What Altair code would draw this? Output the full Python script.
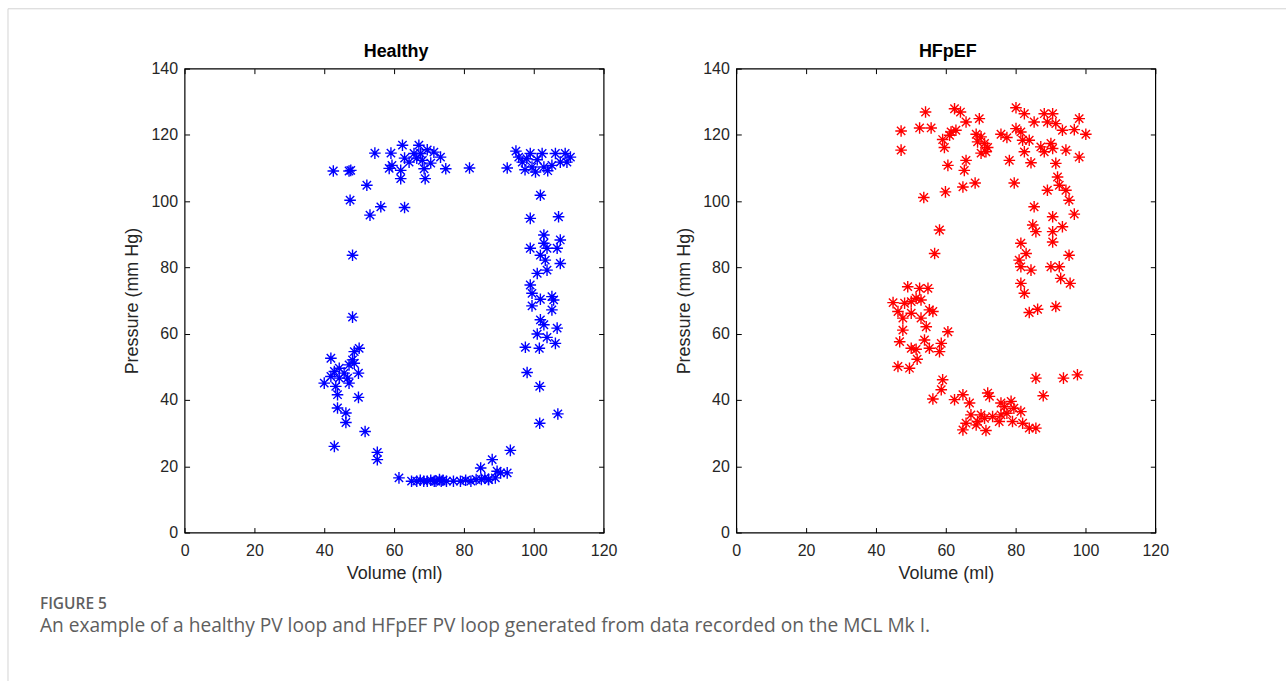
import altair as alt
import pandas as pd

# ---------------- data ----------------
healthy_volume = [
    42.6, 47.1, 47.6, 52.2, 47.4, 54.5, 59.1, 56.2, 53.1, 59.4, 58.6, 62.4, 67.1, 61.9, 61.9,
    64.3, 65.7, 67.6, 68.1, 68.6, 68.9, 71.4, 73.3, 74.8, 81.6, 63.0, 66.5, 69.5, 70.5, 63.0,
    92.4, 94.9, 95.7, 96.7, 99.0, 99.5, 102.4, 102.9, 105.2, 106.2, 109.0, 110.5, 109.5, 107.6,
    97.5, 100.5, 104.0, 101.0, 98.0,
    101.9, 99.0, 107.1, 102.9, 107.6, 99.0, 102.9, 103.8, 106.7, 101.9, 103.3, 107.6, 101.0,
    103.8, 99.0, 99.5, 101.9, 105.2, 105.7, 99.5, 105.2, 101.9, 102.9, 106.7, 101.0, 103.8,
    106.2, 97.6, 101.6, 98.1, 101.7, 106.9, 101.7, 93.3,
    88.1, 84.8, 89.5, 90.5, 92.4, 87.1, 89.0, 61.4,
    65.0, 66.5, 67.5, 68.5, 69.5, 70.5, 71.5, 72.0, 73.0, 73.5, 74.0, 75.0, 77.0, 79.0, 80.5,
    82.0, 83.5, 85.0, 86.0, 87.0,
    55.2, 55.2, 51.7, 42.9, 46.2, 46.2, 43.8, 49.8, 43.8, 40.0, 43.3, 47.1, 41.9, 44.3, 46.7,
    42.9, 45.7, 49.8, 44.3, 47.1, 48.6, 48.1, 41.9, 48.6, 50.0, 48.1, 48.1,
]
healthy_pressure = [
    109.1, 109.1, 109.3, 104.8, 100.3, 114.5, 114.5, 98.3, 95.8, 110.8, 109.9, 116.9, 116.9, 109.3, 106.8,
    111.8, 114.4, 114.4, 112.3, 109.8, 106.8, 114.8, 113.3, 109.8, 110.0, 98.1, 113.0, 115.5, 111.5, 113.0,
    110.0, 115.1, 113.3, 111.8, 114.4, 110.3, 114.4, 110.3, 110.8, 114.4, 114.4, 113.3, 111.8, 111.8,
    109.5, 108.8, 109.2, 112.5, 112.8,
    101.8, 94.8, 95.3, 89.8, 88.3, 85.8, 87.3, 85.8, 85.8, 83.7, 82.2, 81.2, 78.2,
    79.2, 74.7, 72.2, 70.4, 71.2, 70.2, 68.4, 67.2, 64.2, 62.7, 61.7, 59.9, 58.9,
    57.1, 55.9, 55.6, 48.3, 44.1, 35.8, 33.0, 24.8,
    22.0, 19.5, 18.5, 18.0, 18.0, 16.0, 16.5, 16.5,
    15.5, 15.5, 15.8, 15.5, 15.5, 15.8, 15.5, 15.5, 16.0, 15.5, 15.8, 15.5, 15.5, 15.5, 15.8,
    15.5, 16.0, 16.0, 16.5, 16.0,
    24.2, 22.0, 30.5, 26.0, 33.2, 36.1, 37.6, 40.8, 41.6, 45.1, 44.1, 45.1, 47.1, 46.6, 46.6,
    48.6, 48.1, 48.1, 49.6, 50.6, 51.1, 52.1, 52.6, 54.6, 55.6, 65.0, 83.7,
]

hfpef_volume = [
    47.2, 47.2, 52.5, 55.8, 54.2, 62.5, 64.2, 65.8, 69.6, 61.5, 62.9, 61.1, 59.1, 59.6, 60.6,
    65.8, 65.3, 64.9, 68.4, 59.9, 53.7, 58.2, 56.8, 68.7, 70.1, 69.1, 71.1, 72.0, 71.5, 70.1,
    75.8, 77.5, 78.2, 79.6, 80.1, 82.5, 80.1, 81.5, 82.0, 83.9, 82.5, 84.4, 85.3, 88.2, 90.6,
    89.1, 91.5, 93.4, 96.8, 98.2, 100.1, 87.2, 88.2, 90.1, 90.6, 94.4, 91.5, 98.2, 92.0, 92.5,
    89.1, 94.4, 95.3, 96.8, 85.3, 90.6, 84.9, 85.8, 93.4, 90.6, 90.6, 81.5, 83.0, 81.0, 95.3,
    81.5, 90.1, 92.5, 84.4, 92.9, 95.6, 81.5, 82.5, 83.9, 86.3, 91.5, 85.8, 93.7, 97.7, 87.9,
    49.1, 52.5, 54.9, 44.9, 48.2, 50.1, 51.5, 52.9, 46.3, 50.1, 55.3, 56.3, 47.7, 52.9, 54.4,
    47.7, 60.6, 46.8, 53.9, 58.7, 50.1, 51.5, 55.3, 58.2, 51.8, 46.3, 49.6,
    59.1, 58.7, 56.3, 62.5, 64.9, 66.8, 72.0, 72.5, 75.8, 78.7, 76.8, 81.5, 67.2, 70.1, 71.1,
    73.4, 75.8, 69.1, 75.3, 79.1, 82.0, 65.8, 64.9, 71.5, 83.9, 85.8, 68.7, 77.5, 79.5,
]
hfpef_pressure = [
    121.2, 115.4, 122.1, 122.1, 126.9, 127.9, 126.9, 123.9, 124.9, 120.9, 121.4, 119.9, 118.6, 116.2, 110.8,
    112.3, 109.3, 104.3, 105.5, 102.8, 101.1, 91.3, 84.2, 120.2, 119.4, 117.9, 117.4, 116.2, 114.9, 114.5,
    120.2, 119.2, 112.3, 105.5, 128.2, 126.4, 121.9, 120.9, 118.4, 118.4, 114.9, 111.6, 123.9, 126.4, 126.4,
    123.9, 123.4, 121.4, 121.6, 124.9, 120.2, 116.4, 114.9, 117.4, 115.9, 115.4, 111.4, 113.3, 107.3, 104.8,
    103.3, 103.3, 100.3, 96.1, 98.3, 95.3, 92.8, 90.8, 92.3, 90.8, 87.7, 87.3, 84.2, 82.2, 83.7,
    80.2, 80.2, 80.2, 79.2, 76.7, 75.2, 75.2, 72.2, 66.4, 67.4, 68.2, 46.6, 46.6, 47.6, 41.3,
    74.2, 73.7, 73.7, 69.4, 69.2, 69.7, 70.7, 70.2, 66.7, 66.2, 67.2, 66.7, 64.7, 64.7, 62.1,
    61.1, 60.6, 57.6, 58.1, 57.1, 55.6, 55.3, 55.6, 54.6, 52.3, 50.1, 49.6,
    46.1, 43.1, 40.3, 40.1, 41.6, 39.1, 42.1, 41.1, 39.1, 39.6, 38.0, 36.5, 35.5, 35.5, 34.5,
    35.0, 35.5, 33.5, 33.5, 33.5, 33.0, 33.0, 31.0, 30.8, 31.5, 31.5, 32.5, 36.0, 37.5,
]

x_ticks = [0, 20, 40, 60, 80, 100, 120]
y_ticks = [0, 20, 40, 60, 80, 100, 120, 140]
panel_titles = ["Healthy", "HFpEF"]
x_title = "Volume (ml)"
y_title = "Pressure (mm Hg)"
figure_label = "FIGURE 5"
caption = "An example of a healthy PV loop and HFpEF PV loop generated from data recorded on the MCL Mk I."

# ---------------- styling ----------------
FONT = "Liberation Sans"
TXT = "#262626"
STAR = "M-1,0L1,0M0,-1L0,1M-0.72,-0.72L0.72,0.72M-0.72,0.72L0.72,-0.72"
W, H = 420, 465


def panel(vol, pres, color, title, extra=None):
    df = pd.DataFrame({"Volume": vol, "Pressure": pres})
    xs = alt.Scale(domain=[0, 120], nice=False, zero=False)
    ys = alt.Scale(domain=[0, 140], nice=False, zero=False)
    pts = alt.Chart(df).mark_point(
        shape=STAR, size=135, filled=False, color=color, strokeWidth=1.4, opacity=1
    ).encode(
        x=alt.X("Volume:Q", scale=xs, axis=alt.Axis(
            values=x_ticks, orient="bottom", offset=-5, tickSize=5, domain=False, grid=False,
            tickColor="black", labelPadding=10, labelFlush=False, title=x_title, titlePadding=6)),
        y=alt.Y("Pressure:Q", scale=ys, axis=alt.Axis(
            values=y_ticks, orient="left", offset=-5, tickSize=5, domain=False, grid=False,
            tickColor="black", labelPadding=7, labelFlush=False, title=y_title, titlePadding=9)),
    )
    frame = alt.Chart(df).mark_point(opacity=0).encode(
        x=alt.X("Volume:Q", scale=xs, axis=alt.Axis(
            values=x_ticks, orient="top", offset=-5, tickSize=5, domain=False, grid=False,
            labels=False, tickColor="black", title=None)),
        y=alt.Y("Pressure:Q", scale=ys, axis=alt.Axis(
            values=y_ticks, orient="right", offset=-5, tickSize=5, domain=False, grid=False,
            labels=False, tickColor="black", title=None)),
    )
    ttl = alt.Chart(pd.DataFrame({"t": [title]})).mark_text(
        align="center", baseline="alphabetic", font=FONT, fontSize=18, fontWeight="bold", color="black"
    ).encode(x=alt.value(W / 2 + 2), y=alt.value(-12), text="t:N")
    layers = [pts, frame, ttl] + (extra or [])
    return alt.layer(*layers).resolve_axis(x="independent", y="independent").properties(
        width=W, height=H)


one = pd.DataFrame({"fig": [figure_label], "cap": [caption]})
border_v = alt.Chart(one).mark_rule(color="#d4d4d4", strokeWidth=1).encode(
    x=alt.value(-177), y=alt.value(-60), y2=alt.value(614))
border_h = alt.Chart(one).mark_rule(color="#d4d4d4", strokeWidth=1).encode(
    x=alt.value(-177), x2=alt.value(1104), y=alt.value(-60))
fig_text = alt.Chart(one).mark_text(
    align="left", baseline="alphabetic", font="Open Sans", fontSize=15.5, fontWeight=600,
    color="#5f5f5f"
).encode(x=alt.value(-145), y=alt.value(542), text="fig:N")
cap_text = alt.Chart(one).mark_text(
    align="left", baseline="alphabetic", font="Open Sans", fontSize=19.2, color="#5e5e5e"
).encode(x=alt.value(-145), y=alt.value(565), text="cap:N")

left = panel(healthy_volume, healthy_pressure, "#0000ff", panel_titles[0],
             [border_v, border_h, fig_text, cap_text])
right = panel(hfpef_volume, hfpef_pressure, "#ff0000", panel_titles[1])

chart = alt.hconcat(left, right, spacing=133, bounds="flush").properties(
    padding={"left": 6, "top": 6, "right": 0, "bottom": 0},
    background="white",
).configure_view(stroke="black", strokeWidth=1.2).configure_axis(
    labelFont=FONT, labelFontSize=16, labelColor=TXT,
    titleFont=FONT, titleFontSize=18, titleFontWeight="normal", titleColor=TXT,
)

chart.save("out.html", embed_options={"renderer": "svg", "actions": False})
